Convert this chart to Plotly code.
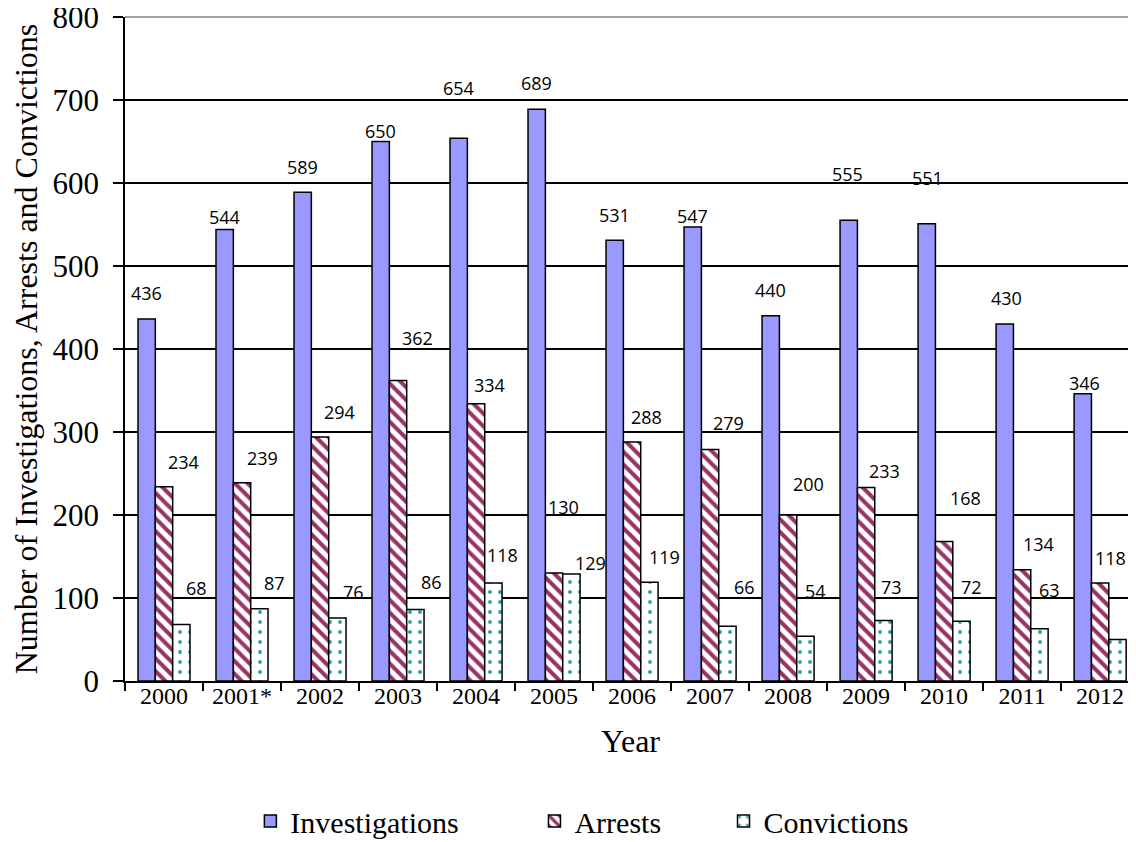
import plotly.graph_objects as go

years = ["2000", "2001*", "2002", "2003", "2004", "2005", "2006",
         "2007", "2008", "2009", "2010", "2011", "2012"]
investigations = [436, 544, 589, 650, 654, 689, 531, 547, 440, 555, 551, 430, 346]
arrests = [234, 239, 294, 362, 334, 130, 288, 279, 200, 233, 168, 134, 118]
convictions = [68, 87, 76, 86, 118, 129, 119, 66, 54, 73, 72, 63, 50]

# manual data-label placement (pixel offsets from each bar top centre), as in the source chart
inv_lab_dx = [0, 0, 0, 0, 0, 0, 0, 0, 0, -1, 1, 2, 2]
inv_lab_dy = [26, 12, 25, 11, 50, 26, 25, 11, 26, 46, 46, 26, 11]
arr_lab_dx = [19, 20, 19, 19, 13, 9, 14, 18, 20, 18, 21, 16, 10]
arr_lab_dy = [25, 25, 25, 43, 19, 66, 25, 26, 31, 17, 44, 26, 25]
con_lab_dx = [15, 15, 16, 16, 9, 19, 15, 17, 10, 8, 10, 10, 23]
con_lab_dy = [37, 26, 26, 28, 28, 11, 25, 39, 45, 33, 34, 39, 12]

SERIF = "Liberation Serif"
LABEL_FONT = dict(family="Open Sans", size=18, color="black")
LEGEND_FONT = dict(family=SERIF, size=30, color="black")
BARGAP = 0.333

fig = go.Figure()
fig.add_trace(go.Bar(
    name="Investigations", x=years, y=investigations,
    marker=dict(color="#9999FF", line=dict(color="black", width=1.5)),
    legend="legend"))
fig.add_trace(go.Bar(
    name="Arrests", x=years, y=arrests,
    marker=dict(color="white", line=dict(color="black", width=1.5),
                pattern=dict(shape="\\", fgcolor="#993366", bgcolor="white",
                             size=9, solidity=0.45, fillmode="replace")),
    legend="legend2"))
fig.add_trace(go.Bar(
    name="Convictions", x=years, y=convictions,
    marker=dict(color="white", line=dict(color="black", width=1.5),
                pattern=dict(shape=".", fgcolor="#2EA3A3", bgcolor="white",
                             size=10, solidity=0.12, fillmode="replace")),
    legend="legend3"))

group_w = 1 - BARGAP
bar_w = group_w / 3
series = [(investigations, inv_lab_dx, inv_lab_dy),
          (arrests, arr_lab_dx, arr_lab_dy),
          (convictions, con_lab_dx, con_lab_dy)]
annotations = []
for k, (vals, dxs, dys) in enumerate(series):
    off = -group_w / 2 + bar_w * (k + 0.5)
    for i, v in enumerate(vals):
        annotations.append(dict(
            x=i + off, y=v, xref="x", yref="y", text=str(v), showarrow=False,
            xanchor="center", yanchor="middle", xshift=dxs[i], yshift=dys[i],
            font=LABEL_FONT))

legend_common = dict(orientation="h", y=-0.211, xanchor="left", yanchor="middle",
                     font=LEGEND_FONT, bgcolor="rgba(0,0,0,0)")
fig.update_layout(
    width=1128, height=834,
    margin=dict(l=117, r=0, t=9, b=161, autoexpand=False),
    font=dict(family=SERIF, color="black"),
    paper_bgcolor="white", plot_bgcolor="white",
    barmode="group", bargap=BARGAP, bargroupgap=0,
    annotations=annotations,
    showlegend=True,
    legend=dict(x=0.124, **legend_common),
    legend2=dict(x=0.405, **legend_common),
    legend3=dict(x=0.592, **legend_common),
    shapes=[dict(type="line", xref="paper", yref="y domain", x0=0, x1=1, y0=1, y1=1,
                 line=dict(color="#808080", width=1.5), layer="above")],
)
fig.update_xaxes(
    type="category", range=[-0.5, 12.46], automargin=False,
    showline=True, linecolor="black", linewidth=1.5,
    ticks="outside", ticklen=8, tickcolor="black", tickwidth=1.5,
    tickson="boundaries", showgrid=False,
    ticklabelstandoff=-8, ticklabeloverflow="allow",
    tickfont=dict(family=SERIF, size=24, color="black"),
    title=dict(text="Year", font=dict(family=SERIF, size=32, color="black"), standoff=22),
)
fig.update_yaxes(
    range=[0, 800], dtick=100, automargin=False,
    showline=True, linecolor="black", linewidth=1.5,
    ticks="outside", ticklen=10, tickcolor="black", tickwidth=1.5,
    showgrid=True, gridcolor="black", gridwidth=1.5, zeroline=False,
    ticklabelstandoff=8, ticklabeloverflow="allow",
    tickfont=dict(family=SERIF, size=31, color="black"),
    title=dict(text="Number of Investigations, Arrests and Convictions",
               font=dict(family=SERIF, size=32, color="black")),
)

fig.write_html("out.html")
